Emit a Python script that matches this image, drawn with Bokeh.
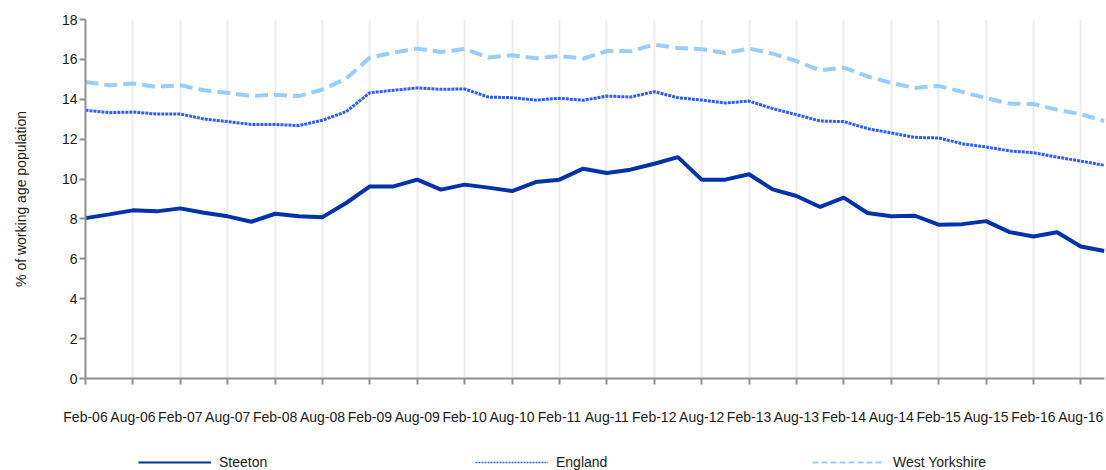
from bokeh.plotting import figure
from bokeh.layouts import column
from bokeh.models import Range1d, FixedTicker, Legend, LegendItem, ColumnDataSource
from bokeh.embed import file_html
from bokeh.resources import INLINE

quarters = ["Feb-06", "May-06", "Aug-06", "Nov-06", "Feb-07", "May-07", "Aug-07", "Nov-07",
            "Feb-08", "May-08", "Aug-08", "Nov-08", "Feb-09", "May-09", "Aug-09", "Nov-09",
            "Feb-10", "May-10", "Aug-10", "Nov-10", "Feb-11", "May-11", "Aug-11", "Nov-11",
            "Feb-12", "May-12", "Aug-12", "Nov-12", "Feb-13", "May-13", "Aug-13", "Nov-13",
            "Feb-14", "May-14", "Aug-14", "Nov-14", "Feb-15", "May-15", "Aug-15", "Nov-15",
            "Feb-16", "May-16", "Aug-16", "Nov-16"]

steeton = [8.04, 8.23, 8.43, 8.38, 8.53, 8.31, 8.13, 7.86, 8.26, 8.13, 8.09, 8.80,
           9.63, 9.63, 9.97, 9.47, 9.72, 9.57, 9.40, 9.85, 9.97, 10.52, 10.30, 10.47,
           10.77, 11.10, 9.97, 9.97, 10.24, 9.48, 9.15, 8.60, 9.07, 8.30, 8.13, 8.16,
           7.71, 7.74, 7.89, 7.34, 7.12, 7.33, 6.62, 6.39]

england = [13.45, 13.33, 13.36, 13.26, 13.26, 13.01, 12.88, 12.74, 12.74, 12.68, 12.95, 13.38,
           14.33, 14.45, 14.57, 14.50, 14.52, 14.11, 14.08, 13.96, 14.05, 13.95, 14.16, 14.11,
           14.38, 14.08, 13.96, 13.81, 13.91, 13.53, 13.23, 12.91, 12.88, 12.53, 12.31, 12.09,
           12.06, 11.77, 11.61, 11.41, 11.32, 11.10, 10.90, 10.69]

west_yorkshire = [14.87, 14.70, 14.79, 14.62, 14.70, 14.45, 14.33, 14.16, 14.23, 14.16, 14.49, 15.04,
                  16.09, 16.34, 16.54, 16.37, 16.52, 16.09, 16.21, 16.06, 16.17, 16.04, 16.42, 16.41,
                  16.74, 16.57, 16.51, 16.32, 16.54, 16.29, 15.91, 15.45, 15.59, 15.15, 14.82, 14.57,
                  14.67, 14.37, 14.06, 13.78, 13.76, 13.48, 13.25, 12.91]

y_ticks = [0, 2, 4, 6, 8, 10, 12, 14, 16, 18]
series_names = ["Steeton", "England", "West Yorkshire"]

FONT = "Liberation Sans"
C_STEETON = "#0033aa"
C_ENGLAND = "#2d5cff"
C_WY = "#99ccff"
AXIS_GRAY = "#8f8f8f"

idx = list(range(len(quarters)))
src = ColumnDataSource(dict(x=idx, steeton=steeton, england=england, wy=west_yorkshire))

p = figure(width=1106, height=440, output_backend="svg", toolbar_location=None,
           x_range=Range1d(0, len(quarters) - 1), y_range=Range1d(0, 18),
           min_border_left=85, min_border_right=2, min_border_top=19, min_border_bottom=62)
p.outline_line_color = None
p.background_fill_color = "white"
p.border_fill_color = "white"

x_tick_pos = idx[::2]
p.xaxis.ticker = FixedTicker(ticks=x_tick_pos)
p.xaxis.major_label_overrides = {i: quarters[i] for i in x_tick_pos}
p.yaxis.ticker = FixedTicker(ticks=y_ticks)

p.xgrid.ticker = FixedTicker(ticks=x_tick_pos)
p.xgrid.grid_line_color = "#ececec"
p.xgrid.grid_line_width = 2
p.ygrid.grid_line_color = None

for ax in (p.xaxis, p.yaxis):
    ax.axis_line_color = AXIS_GRAY
    ax.axis_line_width = 2
    ax.major_tick_line_color = AXIS_GRAY
    ax.major_tick_line_width = 2
    ax.major_tick_in = 0
    ax.major_tick_out = 6
    ax.minor_tick_line_color = None
    ax.major_label_text_font = FONT
    ax.major_label_text_font_size = "14px"
    ax.major_label_text_color = "#1a1a1a"

p.xaxis.major_label_standoff = 24
p.yaxis.major_label_standoff = 2
p.yaxis.axis_label = "% of working age population"
p.yaxis.axis_label_text_font = FONT
p.yaxis.axis_label_text_font_size = "14px"
p.yaxis.axis_label_text_font_style = "normal"
p.yaxis.axis_label_text_color = "#1a1a1a"
p.yaxis.axis_label_standoff = 30

p.line("x", "wy", source=src, line_color=C_WY, line_width=4, line_dash="13 6")
p.line("x", "england", source=src, line_color=C_ENGLAND, line_width=3, line_dash="3 1")
p.line("x", "steeton", source=src, line_color=C_STEETON, line_width=4)

# legend strip below the chart (its series lie outside its 0..1 range, so only the legend shows)
lf = figure(width=1106, height=30, output_backend="svg", toolbar_location=None,
            x_range=Range1d(0, 1), y_range=Range1d(0, 1),
            x_axis_type=None, y_axis_type=None, min_border=0)
lf.outline_line_color = None
lf.grid.grid_line_color = None

r_s = lf.line("x", "steeton", source=src, line_color=C_STEETON, line_width=2)
r_e = lf.line("x", "england", source=src, line_color=C_ENGLAND, line_width=1.5, line_dash="2 1")
r_w = lf.line("x", "wy", source=src, line_color=C_WY, line_width=2, line_dash="6 3")

legend = Legend(items=[LegendItem(label=series_names[0], renderers=[r_s]),
                       LegendItem(label=series_names[1], renderers=[r_e]),
                       LegendItem(label=series_names[2], renderers=[r_w])],
                orientation="horizontal", location=(53, 0),
                glyph_width=73, glyph_height=8, label_height=8,
                label_standoff=8, label_width=236, spacing=20,
                padding=0, margin=0, border_line_color=None, background_fill_alpha=0,
                label_text_font=FONT, label_text_font_size="14px",
                label_text_color="#1a1a1a", label_text_baseline="alphabetic")
lf.add_layout(legend, "center")

open("out.html", "w").write(file_html(column(p, lf), INLINE))
